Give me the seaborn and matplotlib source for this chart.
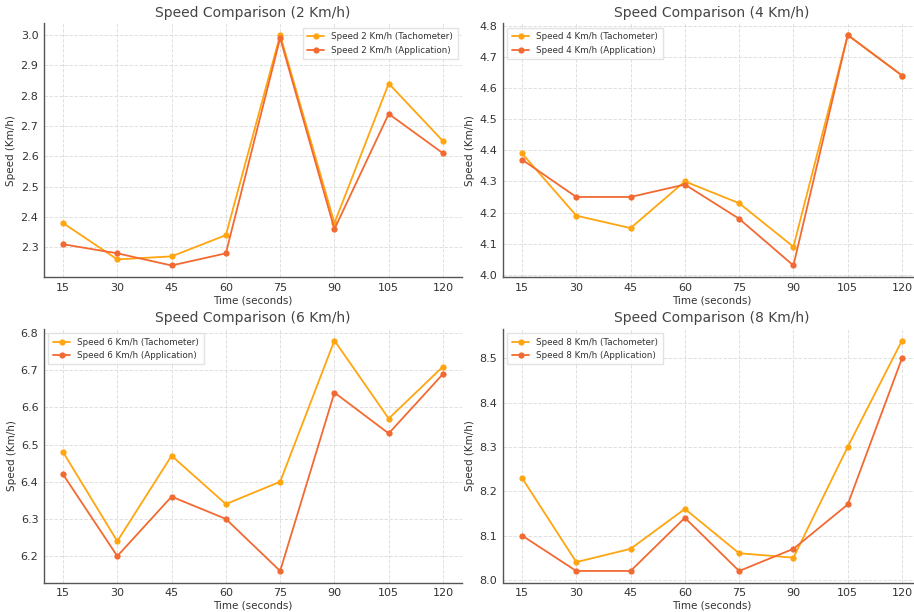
import pandas as pd
import seaborn as sns
import matplotlib.pyplot as plt

time_s = [15, 30, 45, 60, 75, 90, 105, 120]

tach_2 = [2.38, 2.26, 2.27, 2.34, 3.00, 2.38, 2.84, 2.65]
app_2 = [2.31, 2.28, 2.24, 2.28, 2.99, 2.36, 2.74, 2.61]

tach_4 = [4.39, 4.19, 4.15, 4.30, 4.23, 4.09, 4.77, 4.64]
app_4 = [4.37, 4.25, 4.25, 4.29, 4.18, 4.03, 4.77, 4.64]

tach_6 = [6.48, 6.24, 6.47, 6.34, 6.40, 6.78, 6.57, 6.71]
app_6 = [6.42, 6.20, 6.36, 6.30, 6.16, 6.64, 6.53, 6.69]

tach_8 = [8.23, 8.04, 8.07, 8.16, 8.06, 8.05, 8.30, 8.54]
app_8 = [8.10, 8.02, 8.02, 8.14, 8.02, 8.07, 8.17, 8.50]

speeds = [2, 4, 6, 8]
tach_all = [tach_2, tach_4, tach_6, tach_8]
app_all = [app_2, app_4, app_6, app_8]
legend_loc = ["upper right", "upper left", "upper left", "upper left"]

sns.set_style("white")
plt.rcParams['font.family'] = ['DejaVu Sans']
plt.rcParams['text.color'] = '#333333'
plt.rcParams['axes.labelcolor'] = '#333333'
plt.rcParams['xtick.color'] = '#333333'
plt.rcParams['ytick.color'] = '#333333'

fig = plt.figure(figsize=(9.14, 6.12), dpi=100)
W, H = 914, 612
boxes = [(44, 23.5), (503, 23.5), (44, 329), (503, 329)]
ax_w, ax_h = 418, 253.5

c_tach = '#FFA510'
c_app = '#F26A32'

for i, sp in enumerate(speeds):
    x0, y0 = boxes[i]
    ax = fig.add_axes([x0 / W, 1 - (y0 + ax_h) / H, ax_w / W, ax_h / H])
    df = pd.DataFrame({"time": time_s, "tach": tach_all[i], "app": app_all[i]})
    sns.lineplot(data=df, x="time", y="tach", marker="o", markersize=4.5, markeredgewidth=0,
                 color=c_tach, linewidth=1.3, label=f"Speed {sp} Km/h (Tachometer)", ax=ax)
    sns.lineplot(data=df, x="time", y="app", marker="o", markersize=4.5, markeredgewidth=0,
                 color=c_app, linewidth=1.3, label=f"Speed {sp} Km/h (Application)", ax=ax)
    ax.set_xticks(time_s)
    ax.set_title(f"Speed Comparison ({sp} Km/h)", fontsize=10, color='#444444', pad=5)
    ax.set_xlabel("Time (seconds)", fontsize=7.5, labelpad=2)
    ax.set_ylabel("Speed (Km/h)", fontsize=7.5, labelpad=3)
    ax.tick_params(axis='both', labelsize=8, length=0, pad=4)
    ax.grid(True, linestyle=(0, (4, 2)), color='#d9d9d9', linewidth=0.6)
    for s in ['top', 'right']:
        ax.spines[s].set_visible(False)
    for s in ['left', 'bottom']:
        ax.spines[s].set_color('#555555')
        ax.spines[s].set_linewidth(1.0)
    ax.legend(loc=legend_loc[i], fontsize=6.3, frameon=True, edgecolor='#dddddd',
              fancybox=False, borderpad=0.5, handlelength=2.0)

fig.savefig("out.png", dpi=100)
